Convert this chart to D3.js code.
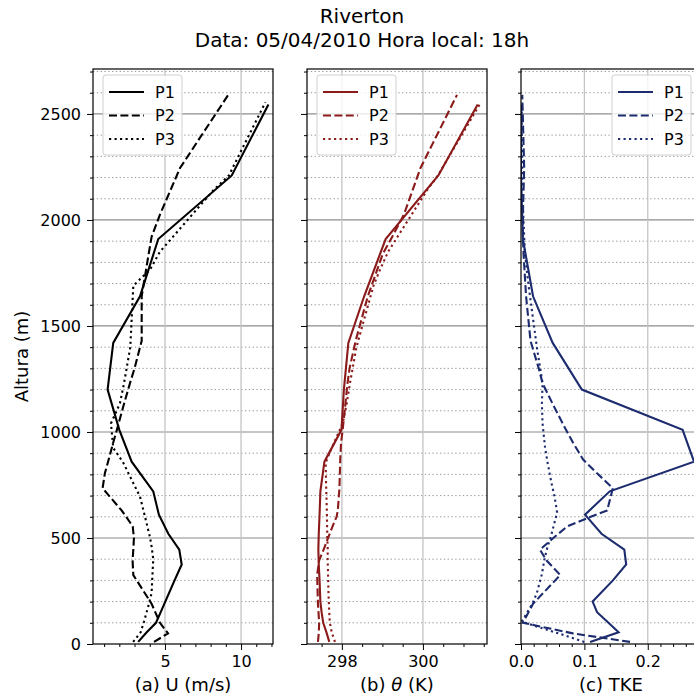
<!DOCTYPE html>
<html>
<head>
<meta charset="utf-8">
<script src="https://cdnjs.cloudflare.com/ajax/libs/d3/7.8.5/d3.min.js"></script>
<style>
  body { margin: 0; background: #fff; }
  svg { display: block; font-family: 'DejaVu Sans', sans-serif; }
</style>
</head>
<body>
<div id="chart"></div>
<script>
// profile heights (m)
const h1 = [10, 55, 100, 150, 200, 300, 375, 445, 520, 610, 720, 860, 1010, 1200, 1420, 1640, 1910, 2210, 2545];
const h2 = [10, 50, 100, 190, 325, 395, 445, 500, 555, 600, 630, 735, 805, 870, 950, 1010, 1120, 1230, 1300, 1430, 1640, 1840, 1920, 2025, 2245, 2590];
const h3 = [10, 55, 105, 190, 240, 330, 400, 460, 505, 620, 695, 760, 855, 925, 1040, 1135, 1230, 1400, 1690, 1765, 1850, 2140, 2210, 2555];

// (a) wind speed U (m/s)
const u1 = [3.24, 3.8, 4.41, 4.72, 5.02, 5.63, 6.1, 5.94, 5.22, 4.6, 4.23, 2.81, 2.0, 1.23, 1.6, 3.36, 4.56, 9.39, 11.8];
const u2 = [4.28, 5.2, 4.67, 4.12, 2.92, 2.87, 2.92, 2.96, 2.88, 2.45, 2.15, 0.9, 1.05, 1.3, 1.6, 1.84, 2.26, 2.7, 3.0, 3.47, 3.47, 3.93, 4.12, 4.67, 5.99, 9.16];
const u3 = [2.91, 3.4, 3.62, 3.95, 4.12, 4.18, 4.23, 4.12, 4.01, 3.62, 3.36, 2.91, 2.26, 1.6, 1.45, 2.04, 2.31, 2.72, 2.92, 4.01, 4.67, 8.18, 9.2, 11.6];

// (b) potential temperature (K)
const th1 = [297.69, 297.62, 297.54, 297.5, 297.47, 297.45, 297.43, 297.42, 297.43, 297.45, 297.47, 297.57, 297.99, 298.05, 298.16, 298.55, 299.08, 300.38, 301.35];
const th2 = [297.41, 297.43, 297.44, 297.41, 297.39, 297.44, 297.55, 297.66, 297.77, 297.87, 297.9, 297.94, 297.95, 297.96, 297.98, 298.02, 298.08, 298.14, 298.19, 298.34, 298.64, 299.01, 299.24, 299.53, 299.94, 300.84];
const th3 = [297.83, 297.75, 297.7, 297.68, 297.67, 297.66, 297.65, 297.65, 297.64, 297.63, 297.62, 297.61, 297.6, 297.75, 298.02, 298.12, 298.2, 298.36, 298.78, 298.94, 299.14, 300.1, 300.37, 301.43];

// (c) TKE
const tke1 = [0.109, 0.154, 0.138, 0.12, 0.113, 0.145, 0.166, 0.163, 0.127, 0.101, 0.14, 0.273, 0.255, 0.096, 0.05, 0.019, 0.003, 0.0, 0.0];
const tke2 = [0.172, 0.082, 0.003, 0.019, 0.062, 0.04, 0.03, 0.051, 0.073, 0.11, 0.136, 0.145, 0.12, 0.098, 0.082, 0.071, 0.052, 0.034, 0.028, 0.015, 0.008, 0.004, 0.003, 0.003, 0.005, 0.002];
const tke3 = [0.1, 0.054, 0.001, 0.018, 0.025, 0.033, 0.037, 0.042, 0.047, 0.057, 0.053, 0.048, 0.042, 0.038, 0.034, 0.033, 0.034, 0.025, 0.012, 0.009, 0.006, 0.002, 0.002, 0.001];

const seriesNames = ['P1', 'P2', 'P3'];
const yTicks = [0, 500, 1000, 1500, 2000, 2500];
const uTicks = [5, 10];
const thTicks = [298, 300];
const tkeTicks = [0.0, 0.1, 0.2];

/*Drawing the figure begins*/
function drawFigure() {
  const W = 694, H = 698;
  const top = 69, bottom = 644, pw = 180;
  const dashes = [null, '8,3.4', '2.2,3.3'];
  const heights = [h1, h2, h3];

  const panels = [
    { left: 93, domain: [0.27, 12.1], ticks: uTicks, minor: d3.range(1, 13).filter(v => v % 5 != 0),
      fmt: d3.format('d'), label: '(a) U (m/s)', color: '#000000', vals: [u1, u2, u3], legend: 'left' },
    { left: 307, domain: [297.14, 301.58], ticks: thTicks, minor: d3.range(0, 9).map(i => 297.5 + i * 0.5).filter(v => v % 2 != 0),
      fmt: d3.format('d'), label: 'theta', color: '#8b1a1a', vals: [th1, th2, th3], legend: 'left' },
    { left: 521, domain: [0, 0.284], ticks: tkeTicks, minor: d3.range(1, 15).filter(i => i % 5 != 0).map(i => i * 0.02),
      fmt: d3.format('.1f'), label: '(c) TKE', color: '#1c2c6e', vals: [tke1, tke2, tke3], legend: 'right' }
  ];

  const svg = d3.select('#chart')
    .append('svg')
    .attr('width', W)
    .attr('height', H);

  // title
  svg.append('text')
    .attr('x', 362).attr('y', 23)
    .attr('text-anchor', 'middle')
    .style('font-size', '20px')
    .text('Riverton');
  svg.append('text')
    .attr('x', 362).attr('y', 47)
    .attr('text-anchor', 'middle')
    .style('font-size', '20px')
    .text('Data: 05/04/2010 Hora local: 18h');

  const y = d3.scaleLinear().domain([0, 2712]).range([bottom, top]);
  const yMinor = d3.range(1, 28).filter(v => v % 5 != 0).map(v => v * 100);

  panels.forEach((p, pi) => {
    const x = d3.scaleLinear().domain(p.domain).range([p.left, p.left + pw]);
    const g = svg.append('g');

    g.append('clipPath').attr('id', 'clip' + pi)
      .append('rect')
      .attr('x', p.left).attr('y', top)
      .attr('width', pw).attr('height', bottom - top);

    // grid
    g.selectAll('.ymin')
      .data(yMinor)
      .enter()
      .append('line')
      .attr('x1', p.left).attr('x2', p.left + pw)
      .attr('y1', d => y(d)).attr('y2', d => y(d))
      .attr('stroke', '#9a9a9a')
      .attr('stroke-width', 1)
      .attr('stroke-dasharray', '1.4,2.4');
    g.selectAll('.ymaj')
      .data(yTicks.slice(1))
      .enter()
      .append('line')
      .attr('x1', p.left).attr('x2', p.left + pw)
      .attr('y1', d => y(d)).attr('y2', d => y(d))
      .attr('stroke', '#8c8c8c')
      .attr('stroke-width', 1.2);
    g.selectAll('.xmaj')
      .data(p.ticks.filter(v => x(v) > p.left + 1))
      .enter()
      .append('line')
      .attr('x1', d => x(d)).attr('x2', d => x(d))
      .attr('y1', top).attr('y2', bottom)
      .attr('stroke', '#c4c4c4')
      .attr('stroke-width', 1.3);

    // profiles
    const line = d3.line()
      .x(d => x(d[0]))
      .y(d => y(d[1]));
    p.vals.forEach((vals, si) => {
      const pts = vals.map((v, i) => [v, heights[si][i]]);
      g.append('path')
        .datum(pts)
        .attr('d', line)
        .attr('fill', 'none')
        .attr('stroke', p.color)
        .attr('stroke-width', 2.1)
        .attr('stroke-dasharray', dashes[si])
        .attr('clip-path', 'url(#clip' + pi + ')');
    });

    // axes
    const yAxis = d3.axisLeft(y).tickValues(yTicks).tickSize(6).tickPadding(6).tickFormat(d3.format('d'));
    if (pi > 0) yAxis.tickFormat('');
    g.append('g')
      .attr('transform', 'translate(' + p.left + ',0)')
      .call(yAxis);
    g.append('g')
      .attr('transform', 'translate(' + p.left + ',0)')
      .call(d3.axisLeft(y).tickValues(yMinor).tickSize(3).tickFormat(''));

    g.append('g')
      .attr('transform', 'translate(0,' + bottom + ')')
      .call(d3.axisBottom(x).tickValues(p.ticks).tickSize(6).tickPadding(6).tickFormat(p.fmt));
    g.append('g')
      .attr('transform', 'translate(0,' + bottom + ')')
      .call(d3.axisBottom(x).tickValues(p.minor).tickSize(3).tickFormat(''));

    g.selectAll('.domain').remove();
    g.selectAll('.tick line').attr('stroke', '#000').attr('stroke-width', 1);
    g.selectAll('.tick text').style('font-size', '16px').attr('fill', '#000').style('font-family', "'DejaVu Sans', sans-serif");

    // spines
    g.append('rect')
      .attr('x', p.left).attr('y', top)
      .attr('width', pw).attr('height', bottom - top)
      .attr('fill', 'none')
      .attr('stroke', '#000')
      .attr('stroke-width', 1.2);

    // x label
    const xl = g.append('text')
      .attr('x', p.left + pw / 2).attr('y', 691)
      .attr('text-anchor', 'middle')
      .style('font-size', '18px');
    if (p.label == 'theta') {
      xl.append('tspan').text('(b) ');
      xl.append('tspan').style('font-style', 'italic').text('\u03b8');
      xl.append('tspan').text(' (K)');
    } else {
      xl.text(p.label);
    }

    // legend
    const lx = p.legend == 'left' ? p.left + 10 : p.left + pw - 10 - 79;
    const lg = g.append('g').attr('transform', 'translate(' + lx + ',75)');
    lg.append('rect')
      .attr('width', 79).attr('height', 80)
      .attr('rx', 3)
      .attr('fill', '#fff').attr('fill-opacity', 0.8)
      .attr('stroke', '#d0d0d0');
    seriesNames.forEach((name, si) => {
      const ry = 17 + si * 23.5;
      lg.append('line')
        .attr('x1', 6).attr('x2', 41)
        .attr('y1', ry).attr('y2', ry)
        .attr('stroke', p.color)
        .attr('stroke-width', 2.1)
        .attr('stroke-dasharray', dashes[si]);
      lg.append('text')
        .attr('x', 52).attr('y', ry)
        .attr('dy', '0.36em')
        .style('font-size', '16px')
        .text(name);
    });
  });

  // y label
  svg.append('text')
    .attr('transform', 'translate(28,' + (top + bottom) / 2 + ') rotate(-90)')
    .attr('text-anchor', 'middle')
    .style('font-size', '18px')
    .text('Altura (m)');
}
/*Drawing the figure ends*/

drawFigure();
</script>
</body>
</html>
